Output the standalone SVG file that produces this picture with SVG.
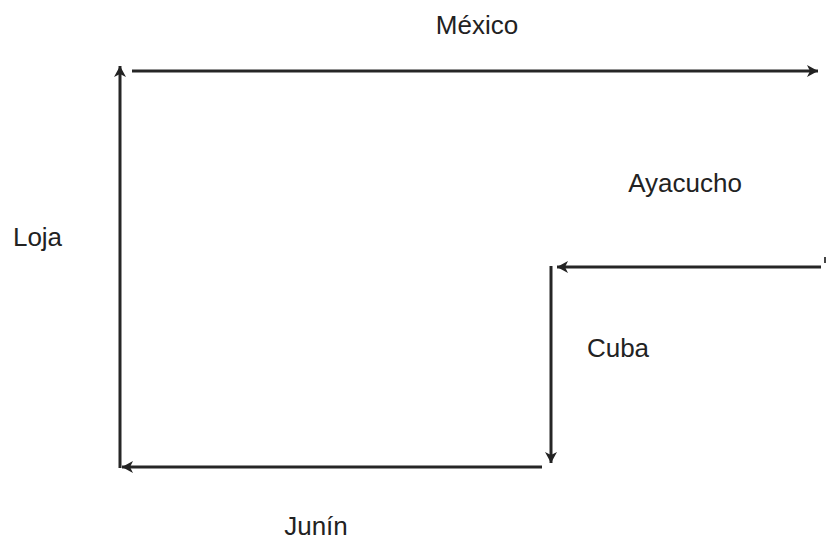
<svg xmlns="http://www.w3.org/2000/svg" width="826" height="548" viewBox="0 0 826 548">
<defs>
<marker id="arr" markerUnits="userSpaceOnUse" markerWidth="14" markerHeight="14" viewBox="-12 -7 14 14" refX="0" refY="0" orient="auto">
<path d="M0,0 L-11,-6 L-8,0 L-11,6 Z" fill="#222"/>
</marker>
<style>
.lbl{font-family:"Liberation Sans",Arial,sans-serif;font-size:26px;fill:#222;text-anchor:middle}
.ln{stroke:#262626;stroke-width:3;fill:none}
</style>
</defs>
<rect width="826" height="548" fill="#fff"/>
<g id="connectors">
<line class="ln" x1="120" y1="468" x2="120" y2="66" marker-end="url(#arr)"/>
<line class="ln" x1="132" y1="71" x2="818" y2="71" marker-end="url(#arr)"/>
<line class="ln" x1="821" y1="267" x2="557" y2="267" marker-end="url(#arr)"/>
<line class="ln" x1="551" y1="266" x2="551" y2="463" marker-end="url(#arr)"/>
<line class="ln" x1="542" y1="467" x2="122" y2="467" marker-end="url(#arr)"/>
<line x1="825" y1="257" x2="825" y2="263" stroke="#444" stroke-width="2"/>
</g>
<g id="mexico"><text class="lbl" x="477" y="34">México</text></g>
<g id="ayacucho"><text class="lbl" x="685" y="192">Ayacucho</text></g>
<g id="loja"><text class="lbl" x="37.5" y="246">Loja</text></g>
<g id="cuba"><text class="lbl" x="618" y="357">Cuba</text></g>
<g id="junin"><text class="lbl" x="316" y="535">Junín</text></g>
</svg>
